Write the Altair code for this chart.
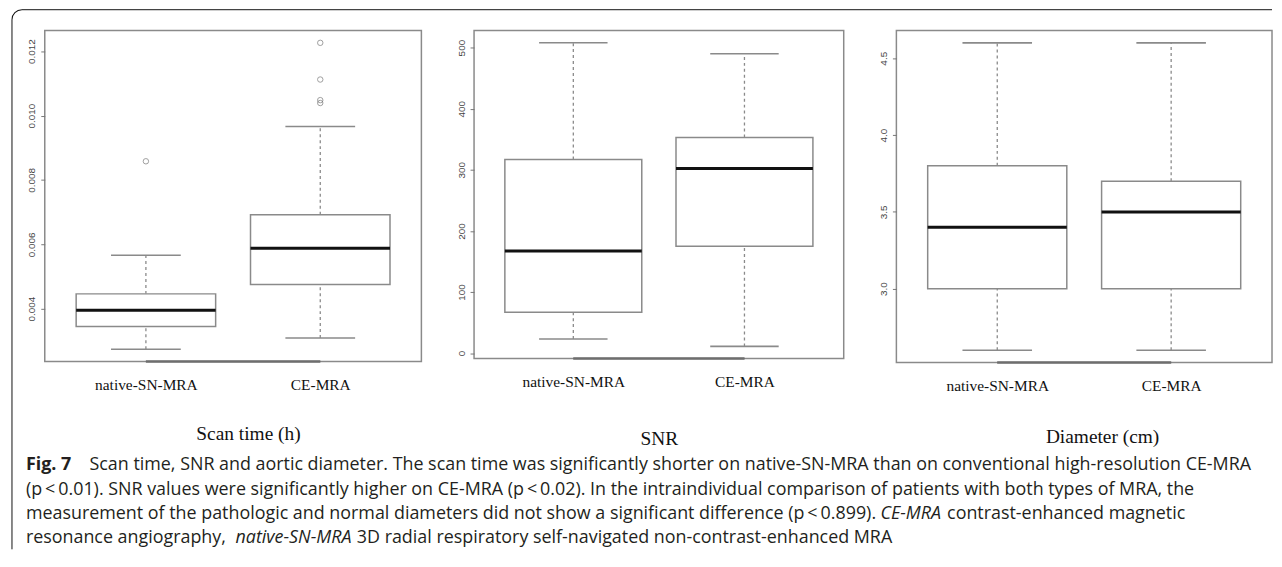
import altair as alt
import pandas as pd

groups = ["native-SN-MRA", "CE-MRA"]

# Scan time (h)
scan_lo = [0.00274, 0.00309]
scan_q1 = [0.00345, 0.00475]
scan_med = [0.00395, 0.00588]
scan_q3 = [0.00446, 0.00692]
scan_hi = [0.00566, 0.00966]
scan_out_grp = ["native-SN-MRA", "CE-MRA", "CE-MRA", "CE-MRA", "CE-MRA"]
scan_out_val = [0.00858, 0.01226, 0.01112, 0.01048, 0.01039]
scan_ticks = [0.004, 0.006, 0.008, 0.010, 0.012]

# SNR
snr_lo = [23, 11]
snr_q1 = [67, 175]
snr_med = [167, 302]
snr_q3 = [317, 353]
snr_hi = [508, 490]
snr_out_grp = []
snr_out_val = []
snr_ticks = [0, 100, 200, 300, 400, 500]

# Diameter (cm)
dia_lo = [2.6, 2.6]
dia_q1 = [3.0, 3.0]
dia_med = [3.4, 3.5]
dia_q3 = [3.8, 3.7]
dia_hi = [4.6, 4.6]
dia_out_grp = []
dia_out_val = []
dia_ticks = [3.0, 3.5, 4.0, 4.5]

titles = ["Scan time (h)", "SNR", "Diameter (cm)"]

caption_line1 = ["Fig. 7", "Scan time, SNR and aortic diameter. The scan time was significantly shorter on native-SN-MRA than on conventional high-resolution CE-MRA"]
caption_line2 = ["(p\u2009<\u20090.01). SNR values were significantly higher on CE-MRA (p\u2009<\u20090.02). In the intraindividual comparison of patients with both types of MRA, the"]
caption_line3 = ["measurement of the pathologic and normal diameters did not show a significant difference (p\u2009<\u20090.899).", "CE-MRA", "contrast-enhanced magnetic"]
caption_line4 = ["resonance angiography,", "native-SN-MRA", "3D radial respiratory self-navigated non-contrast-enhanced MRA"]

GRAY = "#8a8a8a"
SERIF = "Liberation Serif"
SANS = "Open Sans"


def panel(title, lo, q1, med, q3, hi, out_grp, out_val, ticks, fmt, width, height,
          title_x, title_pad, extra=()):
    pos = [i + 1 for i in range(len(groups))]
    df = pd.DataFrame({"group": groups, "pos": pos, "lo": lo, "q1": q1,
                       "med": med, "q3": q3, "hi": hi})
    df["left"] = df["pos"] - 0.4
    df["right"] = df["pos"] + 0.4
    df["capl"] = df["pos"] - 0.2
    df["capr"] = df["pos"] + 0.2
    odf = pd.DataFrame({"group": out_grp, "val": out_val})
    odf["pos"] = [groups.index(g) + 1 for g in out_grp]

    vals = list(lo) + list(hi) + list(out_val)
    ymin, ymax = min(vals), max(vals)
    ext = 0.04 * (ymax - ymin)
    ydom = [ymin - ext, ymax + ext]
    n = len(groups)
    xext = 0.04 * n
    xdom = [0.5 - xext, n + 0.5 + xext]

    xs = alt.Scale(domain=xdom, nice=False, zero=False)
    ys = alt.Scale(domain=ydom, nice=False, zero=False)

    label_expr = f"datum.value == 1 ? '{groups[0]}' : '{groups[1]}'"
    x_axis = alt.Axis(
        values=pos, labelExpr=label_expr, ticks=False, tickSize=0, domain=False,
        grid=False, labelFont=SERIF, labelFontSize=15.5, labelColor="#111",
        labelPadding=16, title=title, titleFont=SERIF, titleFontSize=19.5,
        titleFontWeight="normal", titleColor="#111", titlePadding=title_pad,
        titleX=title_x, labelFlush=False)
    y_axis = alt.Axis(
        values=ticks, format=fmt, labelAngle=-90, grid=False, domain=False,
        tickSize=4, tickColor="#777", labelFont="Liberation Sans", labelFontSize=10,
        labelColor="#444", labelPadding=4, title="", labelFlush=False)

    base = alt.Chart(df)
    whisk_up = base.mark_rule(color=GRAY, strokeWidth=1.3, strokeDash=[3, 3]).encode(
        x=alt.X("pos:Q", scale=xs, axis=x_axis),
        y=alt.Y("q3:Q", scale=ys, axis=y_axis), y2="hi:Q")
    whisk_dn = base.mark_rule(color=GRAY, strokeWidth=1.3, strokeDash=[3, 3]).encode(
        x=alt.X("pos:Q", scale=xs),
        y=alt.Y("lo:Q", scale=ys), y2="q1:Q")
    cap_hi = base.mark_rule(color=GRAY, strokeWidth=1.6).encode(
        x=alt.X("capl:Q", scale=xs), x2="capr:Q",
        y=alt.Y("hi:Q", scale=ys))
    cap_lo = base.mark_rule(color=GRAY, strokeWidth=1.6).encode(
        x=alt.X("capl:Q", scale=xs), x2="capr:Q",
        y=alt.Y("lo:Q", scale=ys))
    box = base.mark_rect(fill="white", stroke=GRAY, strokeWidth=1.5).encode(
        x=alt.X("left:Q", scale=xs), x2="right:Q",
        y=alt.Y("q1:Q", scale=ys), y2="q3:Q")
    median = base.mark_rule(color="#111", strokeWidth=3).encode(
        x=alt.X("left:Q", scale=xs), x2="right:Q",
        y=alt.Y("med:Q", scale=ys))
    axis_line = base.mark_rule(color="#6e6e6e", strokeWidth=2).encode(
        x=alt.datum(1, scale=xs), x2=alt.datum(n),
        y=alt.datum(ydom[0], scale=ys))
    layers = [whisk_up, whisk_dn, cap_hi, cap_lo, box, median, axis_line]
    if len(out_val):
        pts = alt.Chart(odf).mark_point(shape="circle", filled=False, color="#777",
                                         size=30, strokeWidth=1).encode(
            x=alt.X("pos:Q", scale=xs),
            y=alt.Y("val:Q", scale=ys))
        layers.append(pts)
    layers.extend(extra)
    return alt.layer(*layers).properties(
        width=width, height=height,
        view=alt.ViewBackground(stroke=GRAY, strokeWidth=1.5))


# caption + outer frame, drawn relative to the first panel's plot origin (page x=43, y=31)
OX, OY = 43, 31
dummy = pd.DataFrame({"k": [0]})
TXT = "#231f20"
FS = 18


def seg(text, px, base_y, weight="normal", style="normal"):
    return alt.Chart(dummy).mark_text(
        text=text, align="left", baseline="alphabetic", font=SANS, fontSize=FS,
        fontWeight=weight, fontStyle=style, color=TXT).encode(
        x=alt.value(px - OX), y=alt.value(base_y - OY))


LX = 24
caption_layers = [
    seg(caption_line1[0], LX, 473, weight="bold"),
    seg(caption_line1[1], 88, 473),
    seg(caption_line2[0], LX, 498),
    seg(caption_line3[0], LX, 523),
    seg(caption_line3[1], 884, 523, style="italic"),
    seg(caption_line3[2], 951, 523),
    seg(caption_line4[0], LX, 547),
    seg(caption_line4[1], 235, 547, style="italic"),
    seg(caption_line4[2], 357, 547),
]

R = 10
frame_top = alt.Chart(dummy).mark_rule(color="#111", strokeWidth=1).encode(
    x=alt.value(10 + R - OX), x2=alt.value(1278 - OX), y=alt.value(10 - OY))
frame_left = alt.Chart(dummy).mark_rule(color="#111", strokeWidth=1).encode(
    x=alt.value(10 - OX), y=alt.value(10 + R - OY), y2=alt.value(553 - OY))
frame_corner = alt.Chart(dummy).mark_arc(
    radius=R + 0.5, radius2=R - 0.5, theta=4.71238898, theta2=6.28318531,
    color="#111").encode(x=alt.value(10 + R - OX), y=alt.value(10 + R - OY))

p1 = panel(titles[0], scan_lo, scan_q1, scan_med, scan_q3, scan_hi, scan_out_grp,
           scan_out_val, scan_ticks, ".3f", 379, 333, 379 / 2 + 15, 32,
           extra=caption_layers + [frame_top, frame_left, frame_corner])
p2 = panel(titles[1], snr_lo, snr_q1, snr_med, snr_q3, snr_hi, snr_out_grp,
           snr_out_val, snr_ticks, "d", 372, 330, 372 / 2, 40)
p3 = panel(titles[2], dia_lo, dia_q1, dia_med, dia_q3, dia_hi, dia_out_grp,
           dia_out_val, dia_ticks, ".1f", 378, 334, 378 / 2 + 18, 34)

chart = alt.hconcat(p1, p2, p3, spacing=53, bounds="flush").properties(
    padding={"left": 2, "top": -2, "right": 0, "bottom": 0},
    background="white",
).configure_view(stroke="transparent").configure_axis(grid=False)

chart.save("out.html", embed_options={"renderer": "svg", "actions": False})
